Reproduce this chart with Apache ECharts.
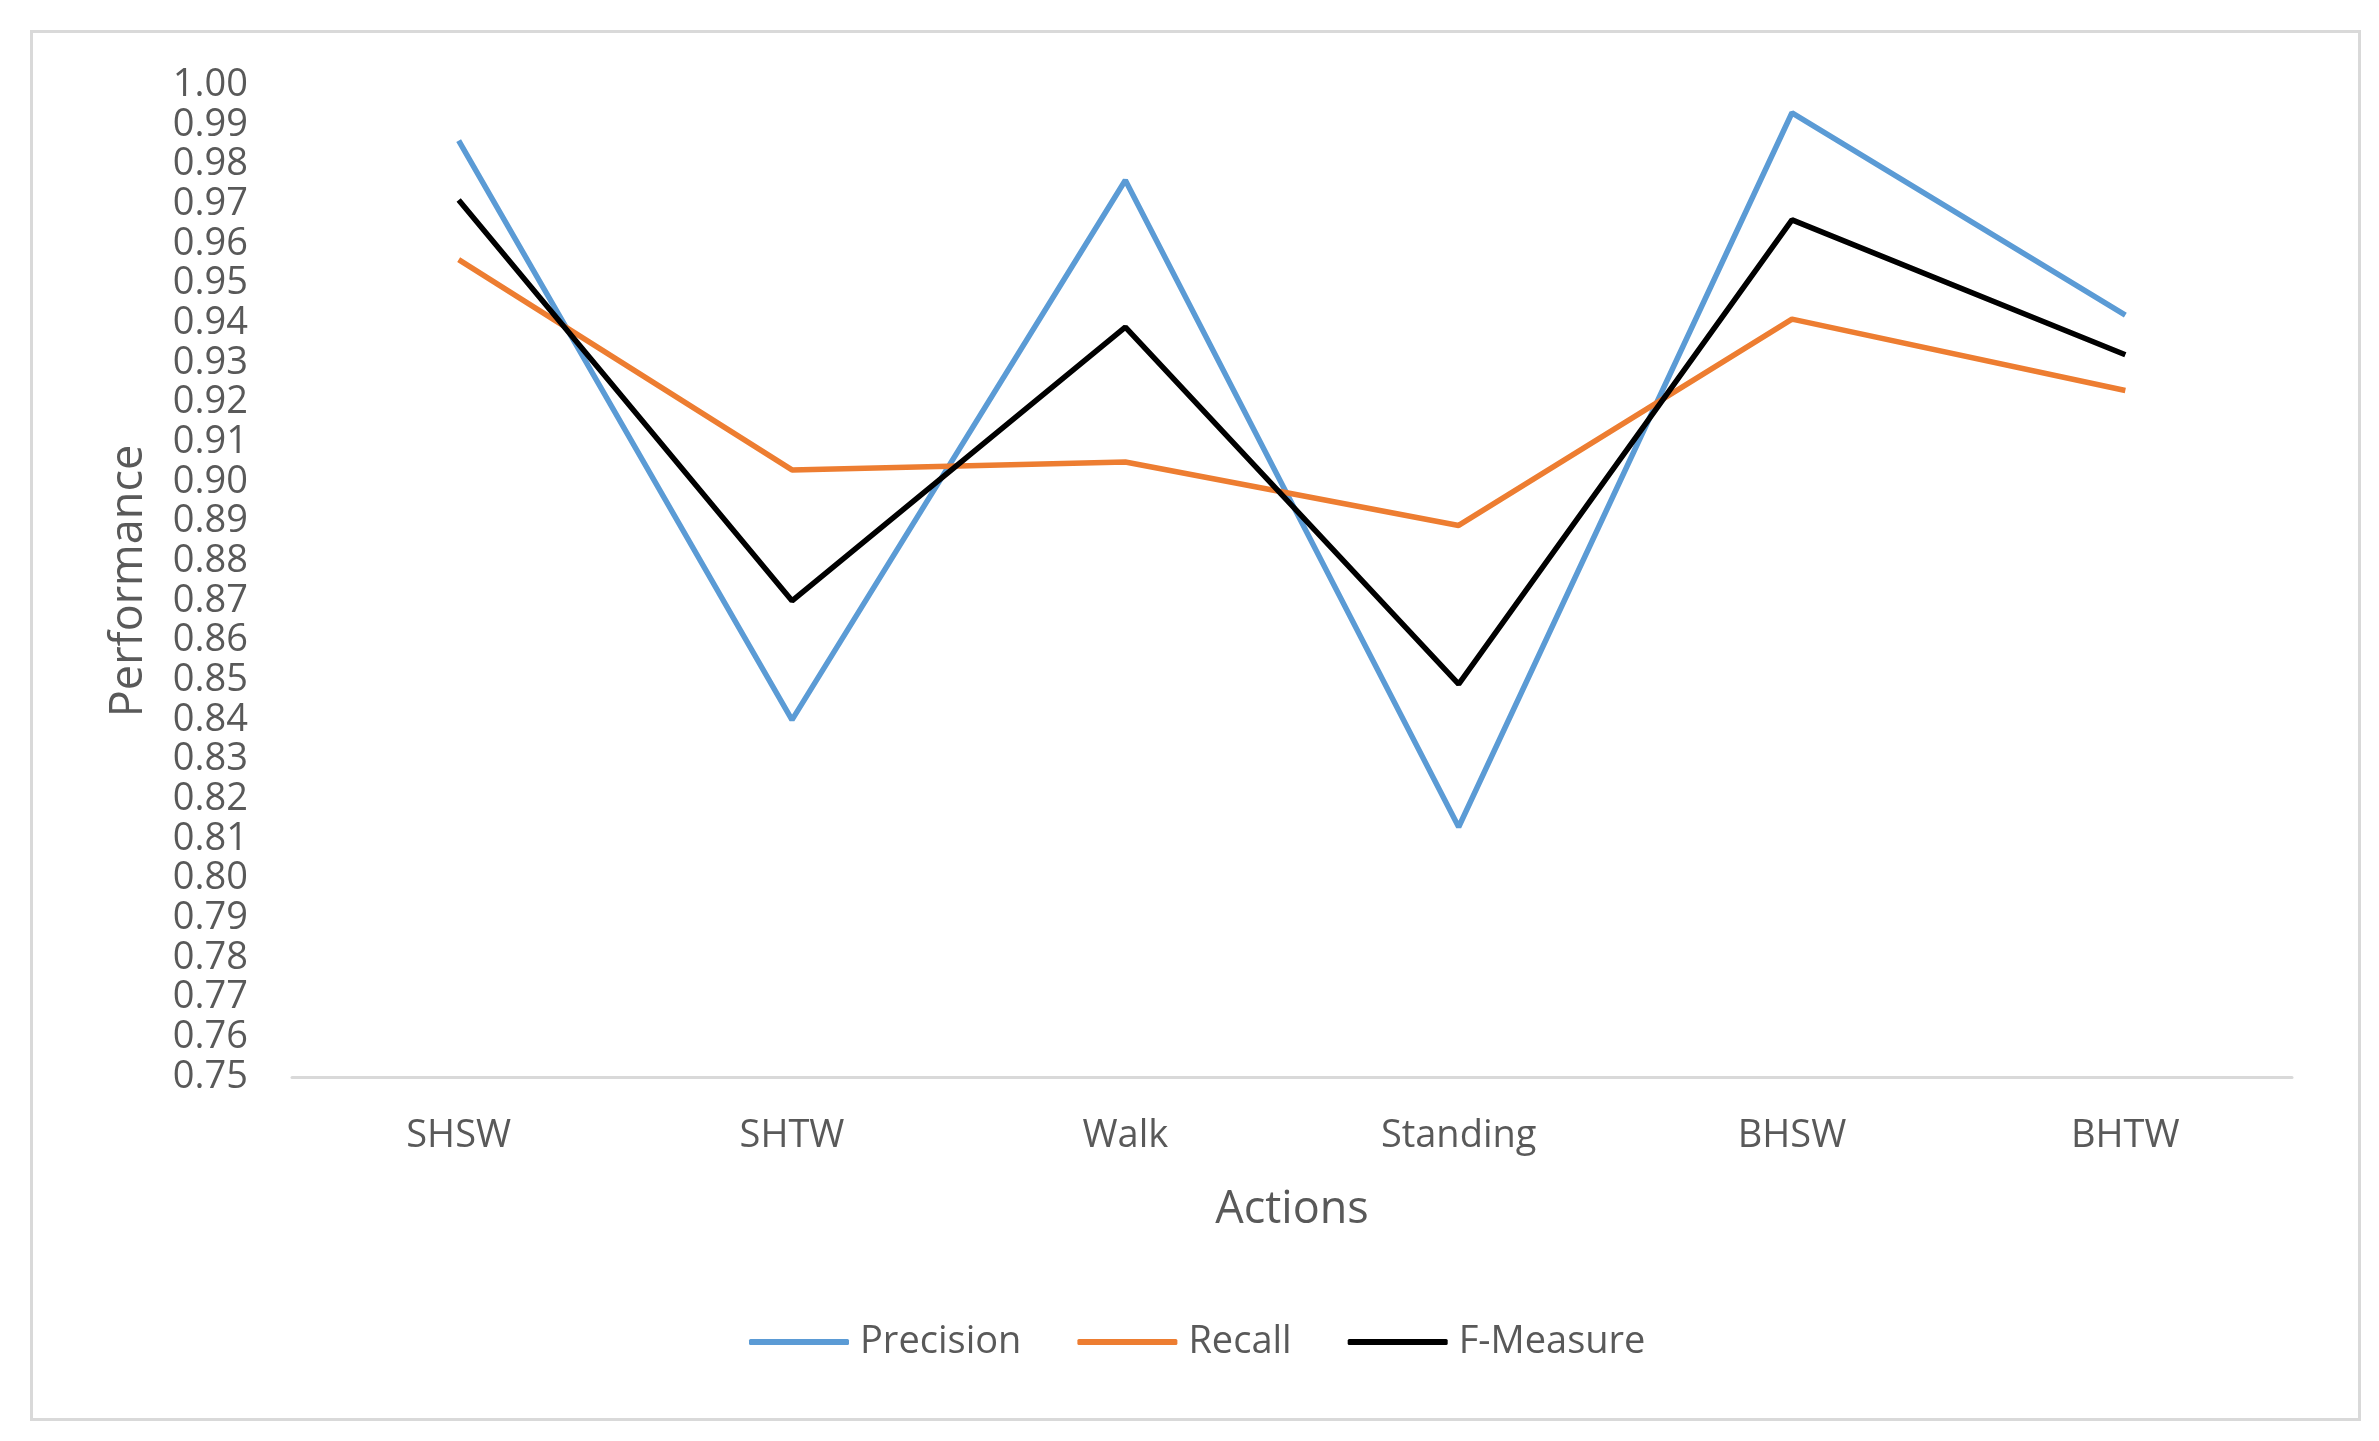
<!DOCTYPE html>
<html>
<head>
<meta charset="utf-8">
<script src="https://cdn.jsdelivr.net/npm/echarts@6/dist/echarts.min.js"></script>
<style>html,body{margin:0;padding:0;background:#fff;}#c{width:2379px;height:1441px;}</style>
</head>
<body>
<div id="c"></div>
<script>
const categories = ['SHSW', 'SHTW', 'Walk', 'Standing', 'BHSW', 'BHTW'];
const precision = [0.986, 0.840, 0.976, 0.813, 0.993, 0.942];
const recall = [0.956, 0.903, 0.905, 0.889, 0.941, 0.923];
const fMeasure = [0.971, 0.870, 0.939, 0.849, 0.966, 0.932];
const seriesNames = ['Precision', 'Recall', 'F-Measure'];
const colors = ['#5B9BD5', '#ED7D31', '#000000'];

const chart = echarts.init(document.getElementById('c'));
const font = '"Open Sans", sans-serif';
const mk = (name, data, color) => ({
  name, type: 'line', data, symbol: 'none',
  lineStyle: { color, width: 5.5 }, itemStyle: { color }
});
chart.setOption({
  animation: false,
  backgroundColor: '#ffffff',
  graphic: [{
    type: 'rect', shape: { x: 31.5, y: 31.5, width: 2328, height: 1388 },
    style: { fill: 'none', stroke: '#d9d9d9', lineWidth: 3 }, silent: true
  }],
  grid: { left: 292, right: 87, top: 85, bottom: 364 },
  legend: {
    left: 744, top: 1318, itemWidth: 100, itemHeight: 6, itemGap: 56,
    icon: 'roundRect',
    textStyle: { fontFamily: font, fontSize: 38, color: '#595959', padding: [0, 0, 0, 6] },
    data: seriesNames
  },
  xAxis: {
    type: 'category', data: categories, boundaryGap: true,
    name: 'Actions', nameLocation: 'middle', nameGap: 111,
    nameTextStyle: { fontFamily: font, fontSize: 45, color: '#595959' },
    axisLine: { lineStyle: { color: '#d9d9d9', width: 3 } },
    axisTick: { show: false },
    axisLabel: { fontFamily: font, fontSize: 38, color: '#595959', margin: 40 }
  },
  yAxis: {
    type: 'value', min: 0.75, max: 1.00, interval: 0.01,
    name: 'Performance', nameLocation: 'middle', nameGap: 140,
    nameTextStyle: { fontFamily: font, fontSize: 45, color: '#595959' },
    axisLine: { show: false }, axisTick: { show: false }, splitLine: { show: false },
    axisLabel: { fontFamily: font, fontSize: 38, color: '#595959', margin: 44,
      formatter: v => v.toFixed(2) }
  },
  series: [
    mk(seriesNames[0], precision, colors[0]),
    mk(seriesNames[1], recall, colors[1]),
    mk(seriesNames[2], fMeasure, colors[2])
  ]
});
</script>
</body>
</html>
